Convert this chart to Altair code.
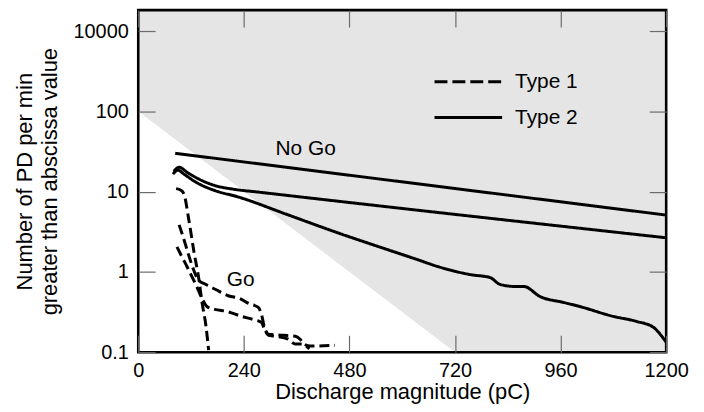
import altair as alt
import pandas as pd

FONT = "Liberation Sans"

# Shaded region ("No Go" zone): lower boundary, filled up to the top of the plot
shade_x = [0, 720, 1200]
shade_low = [100, 0.1, 0.1]
y_top = 1820

# Type 2 (solid) curves
t2a_x = [84, 1200]
t2a_y = [30.0, 5.1]
t2b_x = [81, 93, 111, 138, 172, 217, 273, 1200]
t2b_y = [17.9, 20.1, 17.4, 14.3, 12.0, 10.7, 9.86, 2.66]
t2c_x = [79, 90, 104, 131, 172, 228, 341, 454, 567, 635, 680, 755, 800, 823,
         861, 877, 913, 967, 1003, 1080, 1132, 1171, 1195, 1200]
t2c_y = [16.5, 18.5, 16.5, 13.1, 10.4, 8.55, 5.12, 3.06, 1.89, 1.42, 1.17, 0.925,
         0.849, 0.695, 0.656, 0.656, 0.494, 0.416, 0.371, 0.279, 0.242, 0.204,
         0.145, 0.133]

# Type 1 (dashed) curves
t1a_x = [86, 97, 104, 115, 127, 138, 145, 154, 160]
t1a_y = [10.9, 10.4, 9.31, 4.43, 1.73, 0.80, 0.416, 0.210, 0.106]
t1b_x = [93, 102, 113, 124, 136, 154, 176, 206, 231, 251, 273, 280, 287, 296,
         330, 357, 368, 377, 391, 447]
t1b_y = [3.85, 2.73, 1.73, 1.13, 0.80, 0.695, 0.603, 0.501, 0.466, 0.404, 0.361,
         0.295, 0.204, 0.167, 0.162, 0.158, 0.145, 0.126, 0.119, 0.122]
t1c_x = [88, 99, 111, 122, 133, 145, 156, 174, 201, 235, 264, 280, 287, 296,
         312, 341, 357, 371, 389]
t1c_y = [2.05, 1.55, 1.16, 0.873, 0.657, 0.466, 0.371, 0.341, 0.322, 0.279,
         0.253, 0.235, 0.193, 0.162, 0.158, 0.145, 0.126, 0.126, 0.110]

x_ticks = [0, 240, 480, 720, 960, 1200]
y_ticks = [0.1, 1, 10, 100, 1000]

notes_text = ["No Go", "Go"]
notes_x = [312, 201]
notes_y = [28.3, 0.676]

legend_labels = ["Type 1", "Type 2"]

# ---- build tables ----
rows = []
for name, typ, xs, ys in [
    ("t2a", "Type 2", t2a_x, t2a_y),
    ("t2b", "Type 2", t2b_x, t2b_y),
    ("t2c", "Type 2", t2c_x, t2c_y),
    ("t1a", "Type 1", t1a_x, t1a_y),
    ("t1b", "Type 1", t1b_x, t1b_y),
    ("t1c", "Type 1", t1c_x, t1c_y),
]:
    for i, (xv, yv) in enumerate(zip(xs, ys)):
        rows.append({"series": name, "type": typ, "x": xv, "y": yv, "i": i})
curves = pd.DataFrame(rows)
shade = pd.DataFrame({"x": shade_x, "lo": shade_low, "hi": [y_top] * len(shade_x)})
notes = pd.DataFrame({"text": notes_text, "x": notes_x, "y": notes_y})

W, H = 531, 344

xscale = alt.Scale(domain=[0, 1200], nice=False, zero=False)
yscale = alt.Scale(type="log", domain=[0.1, y_top], nice=False)

tick_style = dict(tickColor="#6b6b6b", tickWidth=1.2, tickSize=17, offset=-17,
                  domain=False, grid=False, labelFlush=False, zindex=2,
                  labelFont=FONT, labelFontSize=20, labelColor="black")

x_bottom = alt.Axis(orient="bottom", values=x_ticks, labelPadding=8, format="d",
                    title="Discharge magnitude (pC)", titleFont=FONT,
                    titleFontSize=22, titleFontWeight="normal", titleColor="black",
                    titlePadding=2, **tick_style)
y_left = alt.Axis(orient="left", values=y_ticks, labelPadding=10,
                  labelExpr="datum.value >= 999 ? '10000' : (datum.value < 0.5 ? '0.1' : format(datum.value, '.0f'))",
                  title=["Number of PD per min", "greater than abscissa value"],
                  titleFont=FONT, titleFontSize=22, titleFontWeight="normal",
                  titleColor="black", titleLineHeight=25, titlePadding=12,
                  **tick_style)
x_top = alt.Axis(orient="top", values=x_ticks, labels=False, title=None, **tick_style)
y_right = alt.Axis(orient="right", values=y_ticks, labels=False, title=None, **tick_style)

area = alt.Chart(shade).mark_area(color="#e5e5e5", opacity=1).encode(
    x=alt.X("x:Q", scale=xscale, axis=x_top),
    y=alt.Y("lo:Q", scale=yscale, axis=y_right),
    y2="hi:Q",
)

lines = alt.Chart(curves).mark_line(color="black", strokeWidth=3,
                                     interpolate="monotone").encode(
    x=alt.X("x:Q", scale=xscale, axis=x_bottom),
    y=alt.Y("y:Q", scale=yscale, axis=y_left),
    detail="series:N",
    order="i:Q",
    strokeDash=alt.StrokeDash("type:N", legend=None,
                              scale=alt.Scale(domain=["Type 1", "Type 2"],
                                              range=[[10, 5], [1, 0]])),
)

note_marks = alt.Chart(notes).mark_text(font=FONT, fontSize=21, align="left",
                                        baseline="alphabetic", color="black").encode(
    x=alt.X("x:Q", scale=xscale, axis=None),
    y=alt.Y("y:Q", scale=yscale, axis=None),
    text="text:N",
)

leg1 = alt.Chart(pd.DataFrame({"t": [legend_labels[0]]})).mark_rule(
    color="black", strokeWidth=3, strokeDash=[13, 5]).encode(
    x=alt.value(298), x2=alt.value(366), y=alt.value(72))
leg2 = alt.Chart(pd.DataFrame({"t": [legend_labels[1]]})).mark_rule(
    color="black", strokeWidth=3).encode(
    x=alt.value(298), x2=alt.value(366), y=alt.value(108))
legt1 = alt.Chart(pd.DataFrame({"t": [legend_labels[0]]})).mark_text(
    font=FONT, fontSize=21, align="left", baseline="middle", color="black").encode(
    x=alt.value(379), y=alt.value(72), text="t:N")
legt2 = alt.Chart(pd.DataFrame({"t": [legend_labels[1]]})).mark_text(
    font=FONT, fontSize=21, align="left", baseline="middle", color="black").encode(
    x=alt.value(379), y=alt.value(108), text="t:N")

frame = alt.Chart(pd.DataFrame({"t": ["frame"]})).mark_rect(
    fill=None, stroke="black", strokeWidth=2.6).encode(
    x=alt.value(0), x2=alt.value(W), y=alt.value(0), y2=alt.value(H))

chart = alt.layer(area, lines, note_marks, leg1, leg2, legt1, legt2, frame).resolve_axis(
    x="independent", y="independent"
).properties(
    width=W, height=H,
    autosize=alt.AutoSizeParams(type="none"),
    padding={"left": 131, "top": 1, "right": 30, "bottom": 58},
).configure_view(stroke=None, fill="white")

chart.save("out.html", embed_options={"renderer": "svg", "actions": False})
